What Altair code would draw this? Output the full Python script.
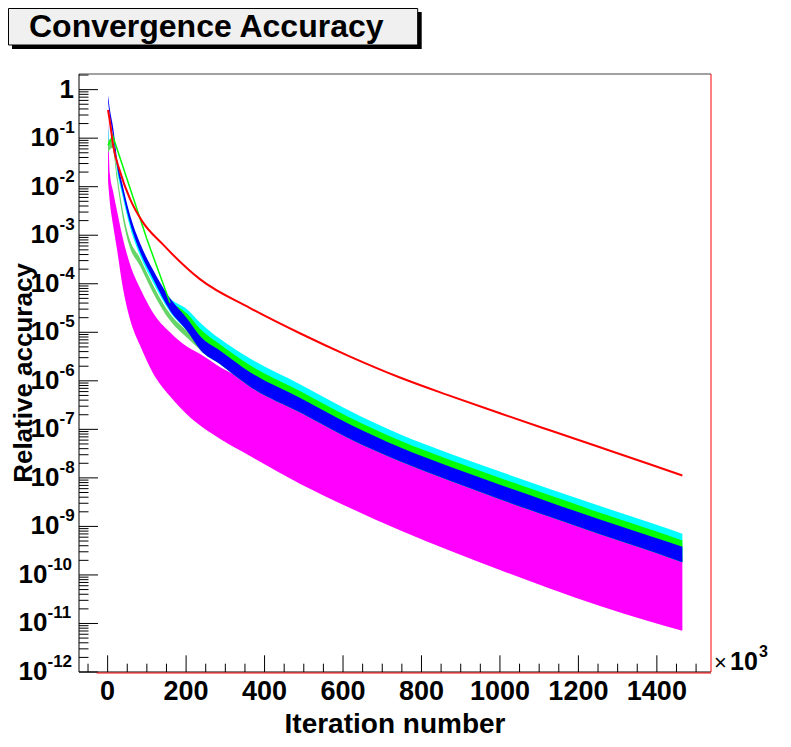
import altair as alt
import pandas as pd

TITLE = "Convergence Accuracy"
X_TITLE = "Iteration number"
Y_TITLE = "Relative accuracy"
FONT = "Liberation Sans"

# ---- red (smooth) series ----
red_x = [1, 6, 14, 32, 57, 87, 142, 236, 363, 490, 618, 745, 873, 1000, 1127, 1255, 1382, 1465]
red_y = [0.380, 0.214, 7.08e-2, 2.00e-2, 5.62e-3, 2.00e-3, 6.31e-4, 1.23e-4, 3.16e-5, 9.55e-6,
         3.16e-6, 1.17e-6, 4.90e-7, 2.14e-7, 9.55e-8, 4.27e-8, 1.91e-8, 1.12e-8]

# ---- noisy series: upper / lower envelopes ----
band_x = [1, 6, 14, 24, 37, 57, 83, 116, 159, 203, 236, 287, 363, 490, 618, 745, 873, 1000, 1127, 1255, 1382, 1465]
blue_hi = [0.759, 0.380, 0.166, 3.80e-2, 1.20e-2, 2.63e-3, 6.76e-4, 1.91e-4, 5.01e-5, 1.91e-5, 8.32e-6,
           4.17e-6, 1.51e-6, 4.47e-7, 1.26e-7, 4.27e-8, 1.70e-8, 7.24e-9, 3.16e-9, 1.38e-9, 6.31e-10, 3.80e-10]
blue_lo = [0.562, 0.263, 0.112, 2.63e-2, 8.32e-3, 1.78e-3, 4.47e-4, 1.26e-4, 2.82e-5, 1.05e-5, 4.37e-6,
           2.19e-6, 7.59e-7, 2.24e-7, 6.31e-8, 2.19e-8, 8.71e-9, 3.63e-9, 1.58e-9, 6.92e-10, 3.16e-10, 1.82e-10]
cyan_hi = [0.100, 0.200, 0.112, 3.16e-2, 1.00e-2, 2.24e-3, 5.62e-4, 1.58e-4, 5.01e-5, 2.95e-5, 1.58e-5,
           7.24e-6, 2.88e-6, 8.51e-7, 2.40e-7, 7.94e-8, 3.16e-8, 1.35e-8, 5.89e-9, 2.63e-9, 1.20e-9, 7.08e-10]
cyan_lo = [4.47e-2, 0.209, 9.33e-2, 2.19e-2, 6.92e-3, 1.48e-3, 3.72e-4, 1.05e-4, 2.63e-5, 1.05e-5, 4.37e-6,
           2.19e-6, 7.59e-7, 2.24e-7, 6.31e-8, 2.19e-8, 8.71e-9, 3.63e-9, 1.58e-9, 6.92e-10, 3.16e-10, 1.82e-10]
mag_hi = [0.251, 1.78e-2, 7.94e-3, 3.16e-3, 1.00e-3, 2.51e-4, 7.94e-5, 2.51e-5, 1.00e-5, 5.01e-6, 3.55e-6,
          1.91e-6, 9.55e-7, 2.82e-7, 7.94e-8, 2.75e-8, 1.10e-8, 4.57e-9, 2.00e-9, 8.71e-10, 3.98e-10, 2.29e-10]
mag_lo = [1.26e-2, 4.47e-3, 1.58e-3, 5.01e-4, 1.00e-4, 1.86e-5, 5.25e-6, 1.41e-6, 4.79e-7, 2.00e-7, 1.20e-7,
          6.31e-8, 2.82e-8, 7.59e-9, 2.40e-9, 8.32e-10, 3.16e-10, 1.26e-10, 5.25e-11, 2.29e-11, 1.10e-11, 7.08e-12]

green_band_x = [159, 203, 236, 287, 363, 490, 618, 745, 873, 1000, 1127, 1255, 1382, 1465]
green_hi = [4.07e-5, 2.40e-5, 1.17e-5, 5.62e-6, 2.09e-6, 6.17e-7, 1.74e-7, 5.89e-8, 2.34e-8, 1.00e-8,
            4.37e-9, 1.91e-9, 8.71e-10, 5.13e-10]
green_lo = [2.82e-5, 1.05e-5, 4.37e-6, 2.19e-6, 7.59e-7, 2.24e-7, 6.31e-8, 2.19e-8, 8.71e-9, 3.63e-9,
            1.58e-9, 6.92e-10, 3.16e-10, 1.82e-10]
green_line_x = [1, 13, 66, 100, 159]
green_line_y = [7.08e-2, 0.112, 5.62e-3, 8.32e-4, 4.07e-5]

lg_x = [1, 12, 24, 32, 53, 83, 116, 159, 203, 236, 287, 363]
lg_hi = [8.91e-2, 0.100, 1.91e-2, 6.76e-3, 1.00e-3, 3.31e-4, 9.33e-5, 2.40e-5, 1.05e-5, 6.03e-6, 3.16e-6, 1.26e-6]
lg_lo = [5.01e-2, 6.31e-2, 1.32e-2, 4.68e-3, 6.92e-4, 2.29e-4, 6.46e-5, 1.74e-5, 7.59e-6, 4.37e-6, 2.29e-6, 8.91e-7]

# ---- axes ----
x_major = [0, 200, 400, 600, 800, 1000, 1200, 1400]
x_labels = ["0", "200", "400", "600", "800", "1000", "1200", "1400"]
x_minor = [v for v in range(-50, 1501, 50) if v % 200 != 0]
y_major = [1e0, 1e-1, 1e-2, 1e-3, 1e-4, 1e-5, 1e-6, 1e-7, 1e-8, 1e-9, 1e-10, 1e-11, 1e-12]
y_exp = ["", "-1", "-2", "-3", "-4", "-5", "-6", "-7", "-8", "-9", "-10", "-11", "-12"]
y_minor = [m * 10.0 ** k for k in range(-12, 1) for m in range(2, 10) if m * 10.0 ** k <= 2.1]

W, H = 632, 598
xs = alt.Scale(domain=[-73, 1538], nice=False, zero=False)
ys = alt.Scale(type="log", domain=[1e-12, 2.1], nice=False)


def band(x, hi, lo, color):
    df = pd.DataFrame({"x": x, "hi": hi, "lo": lo})
    return alt.Chart(df).mark_area(color=color, clip=True, opacity=1,
                                   interpolate="monotone").encode(
        x=alt.X("x:Q", scale=xs, axis=None),
        y=alt.Y("hi:Q", scale=ys, axis=None),
        y2="lo:Q",
    )


def line(x, y, color, width, interp="monotone"):
    df = pd.DataFrame({"x": x, "y": y})
    return alt.Chart(df).mark_line(color=color, strokeWidth=width, clip=True,
                                   interpolate=interp).encode(
        x=alt.X("x:Q", scale=xs, axis=None),
        y=alt.Y("y:Q", scale=ys, axis=None),
    )


one = pd.DataFrame({"t": [""]})


def hrule(x1, x2, y, color, width=1.0):
    return alt.Chart(one).mark_rule(color=color, strokeWidth=width).encode(
        x=alt.value(x1), x2=alt.value(x2), y=alt.value(y))


def vrule(x, y1, y2, color, width=1.0):
    return alt.Chart(one).mark_rule(color=color, strokeWidth=width).encode(
        x=alt.value(x), y=alt.value(y1), y2=alt.value(y2))


def label(text, x, y, size, weight="bold", align="left", baseline="alphabetic", angle=0):
    df = pd.DataFrame({"t": [text]})
    kw = dict(font=FONT, fontSize=size, fontWeight=weight, align=align,
              baseline=baseline, color="black")
    if angle:
        kw["angle"] = angle
    return alt.Chart(df).mark_text(**kw).encode(
        text="t:N", x=alt.value(x), y=alt.value(y))


# data layers (draw order)
layers = [
    band(band_x, mag_hi, mag_lo, "#ff00ff"),
    band(band_x, cyan_hi, cyan_lo, "#00ffff"),
    band(lg_x, lg_hi, lg_lo, "#66d466"),
    band(green_band_x, green_hi, green_lo, "#00ff00"),
    band(band_x, blue_hi, blue_lo, "#0000ff"),
    line(green_line_x, green_line_y, "#00ff00", 1.5, "linear"),
    line(red_x, red_y, "#ff0000", 2),
]

# ticks (inside)
ymaj = pd.DataFrame({"v": y_major})
ymin = pd.DataFrame({"v": y_minor})
xmaj = pd.DataFrame({"v": x_major, "lab": x_labels})
xmin = pd.DataFrame({"v": x_minor})

layers += [
    alt.Chart(ymaj).mark_rule(color="black", strokeWidth=1).encode(
        y=alt.Y("v:Q", scale=ys, axis=None), x=alt.value(0), x2=alt.value(19)),
    alt.Chart(ymin).mark_rule(color="black", strokeWidth=1).encode(
        y=alt.Y("v:Q", scale=ys, axis=None), x=alt.value(0), x2=alt.value(9.5)),
    alt.Chart(xmaj).mark_rule(color="black", strokeWidth=1).encode(
        x=alt.X("v:Q", scale=xs, axis=None), y=alt.value(H), y2=alt.value(H - 16.7)),
    alt.Chart(xmin).mark_rule(color="black", strokeWidth=1).encode(
        x=alt.X("v:Q", scale=xs, axis=None), y=alt.value(H), y2=alt.value(H - 8.3)),
]

# frame
layers += [
    hrule(0, W, 0, "#444444"),
    vrule(0, 0, H, "black"),
    hrule(0, W, H, "black"),
    hrule(17.7, W, H + 1, "#ff0000"),
    vrule(W, 0, H, "#ff0000"),
]

# x tick labels
layers.append(
    alt.Chart(xmaj).mark_text(font=FONT, fontSize=27, fontWeight="bold", align="center",
                              baseline="alphabetic", color="black").encode(
        x=alt.X("v:Q", scale=xs, axis=None), y=alt.value(H + 28), text="lab:N"))

# y tick labels: base "10" plus raised exponent
ylab = pd.DataFrame({"v": y_major, "exp": y_exp})
ylab["base"] = ["1"] + ["10"] * (len(y_major) - 1)
ylab["nd"] = ylab["exp"].str.len()
for cond, xpos in [("datum.nd == 2", -19.5), ("datum.nd == 3", -31.5)]:
    layers.append(
        alt.Chart(ylab).transform_filter(cond).mark_text(
            font=FONT, fontSize=26, fontWeight="bold", align="right", baseline="middle",
            color="black").encode(
            y=alt.Y("v:Q", scale=ys, axis=None), x=alt.value(xpos), text="base:N"))
    layers.append(
        alt.Chart(ylab).transform_filter(cond).mark_text(
            font=FONT, fontSize=17, fontWeight="bold", align="left", baseline="middle",
            dy=-10, color="black").encode(
            y=alt.Y("v:Q", scale=ys, axis=None), x=alt.value(xpos), text="exp:N"))
layers.append(
    alt.Chart(ylab).transform_filter("datum.nd == 0").mark_text(
        font=FONT, fontSize=26, fontWeight="bold", align="right", baseline="middle",
        color="black").encode(
        y=alt.Y("v:Q", scale=ys, axis=None), x=alt.value(-5), text="base:N"))

# x10^3 multiplier
layers += [
    label("\u00d7", 635, H - 2, 22, weight="normal"),
    label("10", 651, H - 2, 25),
    label("3", 680, H - 15, 16),
]

# axis titles
layers += [
    label(X_TITLE, W / 2, H + 61, 28, align="center"),
    label(Y_TITLE, -47.5, H / 2, 26, align="center", angle=270),
]

# title box with shadow
layers += [
    alt.Chart(one).mark_rect(color="black").encode(
        x=alt.value(-67), x2=alt.value(342.7), y=alt.value(-62), y2=alt.value(-25)),
    alt.Chart(one).mark_rect(fill="#f0f0f0", stroke="black", strokeWidth=1).encode(
        x=alt.value(-70.5), x2=alt.value(338.7), y=alt.value(-65.5), y2=alt.value(-29)),
    label(TITLE, -50, -37, 32),
]

chart = alt.layer(*layers).properties(
    width=W, height=H,
    autosize=alt.AutoSizeParams(type="none"),
    padding={"left": 71, "top": 66, "right": 66, "bottom": 67},
    background="white",
).configure_view(strokeWidth=0)

chart.save("out.html", embed_options={"renderer": "svg", "actions": False})
